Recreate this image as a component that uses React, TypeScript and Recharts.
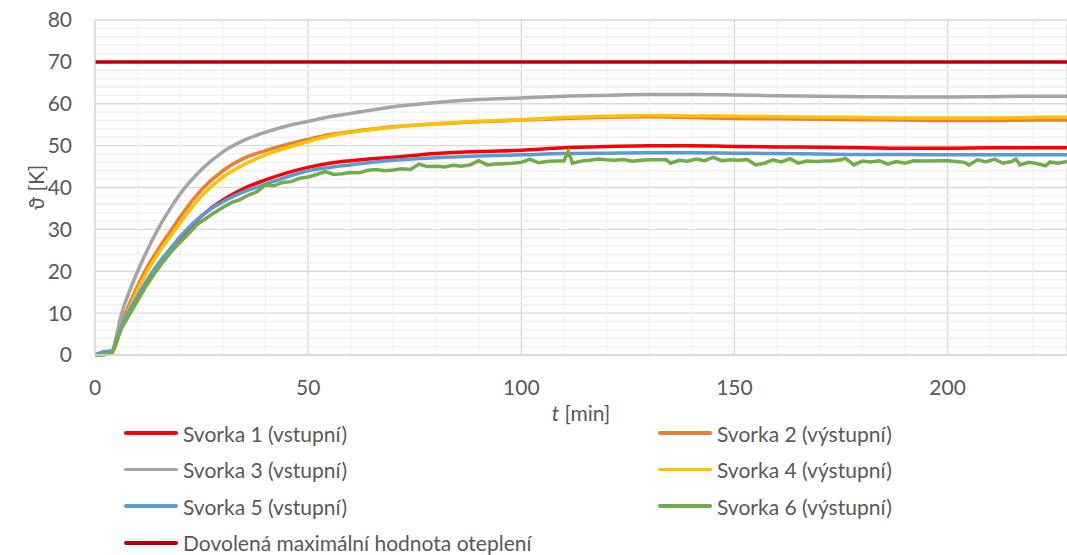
import React from 'react';
import { LineChart, Line, XAxis, YAxis, CartesianGrid, ReferenceLine, Legend } from 'recharts';

// time axis shared by the smooth series [min]
const smoothT = [0, 2, 4, 5, 6, 8, 10, 12, 15, 18, 20, 25, 30, 35, 40, 45, 50, 55, 60, 70, 80, 90, 100, 110, 120, 130, 140, 150, 160, 170, 180, 190, 200, 210, 220, 228];

const svorka1 = [0, 0.3, 0.6, 3, 6, 10, 13.5, 17, 21.5, 25.5, 28, 33.2, 37, 39.8, 41.8, 43.5, 44.8, 45.8, 46.4, 47.2, 48.1, 48.6, 48.9, 49.5, 49.8, 50, 50, 49.8, 49.7, 49.6, 49.5, 49.4, 49.4, 49.5, 49.5, 49.5];
const svorka2 = [0, 0.3, 0.6, 3.5, 7, 12, 16.5, 20.5, 25.5, 30, 33, 39.5, 44, 47, 48.8, 50.3, 51.5, 52.6, 53.3, 54.5, 55.2, 55.7, 56.1, 56.5, 56.8, 56.9, 56.7, 56.5, 56.4, 56.3, 56.2, 56.1, 56, 56, 56.1, 56.1];
const svorka3 = [0, 0.5, 0.8, 4.5, 9, 15, 20, 24.5, 30.5, 35.5, 38.5, 44.3, 48.5, 51.3, 53.2, 54.7, 55.8, 56.9, 57.7, 59.3, 60.3, 61, 61.4, 61.8, 62, 62.2, 62.2, 62.1, 61.9, 61.8, 61.7, 61.6, 61.6, 61.7, 61.8, 61.8];
const svorka4 = [0, 0.2, 0.5, 3, 6.5, 11, 15.5, 19.5, 24.5, 28.8, 31.6, 38, 42.5, 45.5, 47.8, 49.5, 51, 52.3, 53.2, 54.4, 55.2, 55.8, 56.2, 56.7, 57, 57.2, 57.1, 57, 56.9, 56.8, 56.7, 56.6, 56.6, 56.6, 56.7, 56.8];
const svorka5 = [0, 0.8, 1, 3.5, 6.5, 10.5, 14, 17.5, 22, 25.8, 28.3, 33.3, 36.6, 39, 40.8, 42.5, 44, 44.8, 45.4, 46.5, 47.1, 47.5, 47.8, 48.1, 48.2, 48.3, 48.3, 48.2, 48.1, 48, 47.9, 47.9, 47.8, 47.8, 47.8, 47.8];

// noisy sensor, [t, value]
const svorka6: [number, number][] = [
  [0, 0], [2, 0], [3, 0.2], [4, 0.5], [5, 3], [6, 6], [8, 9.5], [10, 13], [12, 16.5], [14, 19.5],
  [16, 22.3], [18, 24.8], [20, 27], [22, 29], [24, 31.2], [26, 32.6], [28, 34], [30, 35.2], [32, 36.4], [34, 37.1],
  [36, 38.2], [38, 39], [40, 40.6], [42, 40.4], [44, 41.2], [46, 41.4], [48, 42.2], [50, 42.5], [52, 43.1], [54, 43.8],
  [56, 43.1], [58, 43.3], [60, 43.6], [62, 43.5], [64, 44.1], [66, 44.3], [68, 44], [70, 44.2], [72, 44.5], [74, 44.3],
  [76, 45.6], [78, 45], [80, 45.1], [82, 44.9], [84, 45.3], [86, 45.1], [88, 45.4], [90, 46.4], [92, 45.4], [94, 45.6],
  [96, 45.7], [98, 45.8], [100, 46], [102, 46.8], [104, 45.9], [106, 46.2], [108, 46.3], [110, 46.4], [111, 48.6], [112, 45.8],
  [114, 46.3], [116, 46.5], [118, 46.8], [120, 46.6], [122, 46.5], [124, 46.7], [126, 46.3], [128, 46.5], [130, 46.6], [132, 46.6],
  [134, 46.6], [135, 45.8], [137, 46.5], [139, 46.3], [141, 46.8], [143, 46.4], [145, 47.2], [147, 46.4], [149, 46.6], [151, 46.5],
  [153, 46.7], [155, 45.4], [157, 45.8], [159, 46.6], [161, 46.1], [163, 46.9], [165, 45.8], [167, 46.3], [169, 46.2], [171, 46.3],
  [173, 46.4], [175, 46.6], [176, 47], [178, 45.4], [180, 46.3], [182, 46.1], [184, 46.4], [186, 45.6], [188, 46.2], [190, 45.8],
  [192, 46.4], [194, 46.3], [196, 46.3], [198, 46.4], [200, 46.4], [202, 46.2], [204, 46], [205, 45.4], [207, 46.6], [209, 46.1],
  [211, 46.8], [213, 45.8], [215, 46.2], [216, 46.8], [217, 45.4], [219, 46], [221, 45.7], [223, 45.2], [224, 46.1], [226, 45.8],
  [228, 46.2],
];

const limitT = [0, 228];
const limitV = [70, 70];

const xTicks = [0, 50, 100, 150, 200];
const yTicks = [0, 10, 20, 30, 40, 50, 60, 70, 80];
const xMinor = [10, 20, 30, 40, 60, 70, 80, 90, 110, 120, 130, 140, 160, 170, 180, 190, 210, 220];
const yMinor = [2, 4, 6, 8, 12, 14, 16, 18, 22, 24, 26, 28, 32, 34, 36, 38, 42, 44, 46, 48, 52, 54, 56, 58, 62, 64, 66, 68, 72, 74, 76, 78];

const TEXT = '#595959';
const FONT = 'Lato, "Open Sans", sans-serif';
const FS = 21;

const pts = (ts: number[], vs: number[]) => ts.map((t, i) => ({ t, v: vs[i] }));

const series = [
  { name: 'Svorka 1 (vstupní)', color: '#FF0000', data: pts(smoothT, svorka1), type: 'monotone' },
  { name: 'Svorka 2 (výstupní)', color: '#ED7D31', data: pts(smoothT, svorka2), type: 'monotone' },
  { name: 'Svorka 3 (vstupní)', color: '#A5A5A5', data: pts(smoothT, svorka3), type: 'monotone' },
  { name: 'Svorka 4 (výstupní)', color: '#FFC000', data: pts(smoothT, svorka4), type: 'monotone' },
  { name: 'Svorka 5 (vstupní)', color: '#5B9BD5', data: pts(smoothT, svorka5), type: 'monotone' },
  { name: 'Svorka 6 (výstupní)', color: '#70AD47', data: svorka6.map(([t, v]) => ({ t, v })), type: 'linear' },
  { name: 'Dovolená maximální hodnota oteplení', color: '#C00000', data: pts(limitT, limitV), type: 'linear' },
];

function XTitle(props: any) {
  const { viewBox } = props;
  const cx = viewBox.x + viewBox.width / 2;
  return (
    <text x={cx} y={viewBox.y + 66} textAnchor="middle" fill={TEXT} fontSize={FS} fontFamily={FONT}>
      <tspan fontStyle="italic">t</tspan>
      <tspan> [min]</tspan>
    </text>
  );
}

function YTitle(props: any) {
  const { viewBox } = props;
  const cy = viewBox.y + viewBox.height / 2;
  return (
    <text x={35} y={cy} textAnchor="middle" dominantBaseline="central" fill={TEXT} fontSize={FS} fontFamily={FONT} transform={`rotate(-90 35 ${cy})`}>
      ϑ [K]
    </text>
  );
}

// two-column legend like the Excel original, limit line alone on the last row
function LegendBox() {
  return (
    <div style={{ position: 'relative', width: 1067, height: 140, fontFamily: FONT }}>
      {series.map((s, i) => {
        const col = i < 6 ? i % 2 : 0;
        const row = Math.floor(i / 2);
        return (
          <div
            key={s.name}
            style={{
              position: 'absolute',
              left: col ? 658 : 124,
              top: row * 36.6,
              height: 30,
              display: 'flex',
              alignItems: 'center',
              whiteSpace: 'nowrap',
            }}
          >
            <span style={{ display: 'inline-block', width: 54, height: 3.5, borderRadius: 2, background: s.color, marginRight: 5 }} />
            <span style={{ color: TEXT, fontSize: FS }}>{s.name}</span>
          </div>
        );
      })}
    </div>
  );
}

export default function App() {
  return (
    <div style={{ position: 'absolute', left: 0, top: 0, width: 1067, height: 555, background: '#fff', fontFamily: FONT }}>
      <LineChart width={1067} height={555} margin={{ top: 20, right: 0, bottom: 130, left: 0 }}>
        <CartesianGrid stroke="#D9D9D9" strokeWidth={1.3} />
        {yMinor.map(v => (
          <ReferenceLine key={'y' + v} y={v} stroke="#F0F0F0" strokeWidth={1.3} ifOverflow="hidden" />
        ))}
        {xMinor.map(v => (
          <ReferenceLine key={'x' + v} x={v} stroke="#F0F0F0" strokeWidth={1.3} ifOverflow="hidden" />
        ))}
        <XAxis
          type="number"
          dataKey="t"
          domain={[0, 228]}
          ticks={xTicks}
          allowDataOverflow
          height={70}
          tickSize={0}
          tickMargin={25}
          tickLine={false}
          axisLine={{ stroke: '#D9D9D9', strokeWidth: 1.3 }}
          tick={{ fill: TEXT, fontSize: FS, fontFamily: FONT }}
          label={<XTitle />}
        />
        <YAxis
          type="number"
          domain={[0, 80]}
          ticks={yTicks}
          width={95}
          tickSize={0}
          tickMargin={23}
          tickLine={false}
          axisLine={{ stroke: '#D9D9D9', strokeWidth: 1.3 }}
          tick={{ fill: TEXT, fontSize: FS, fontFamily: FONT }}
          label={<YTitle />}
        />
        {series.map(s => (
          <Line
            key={s.name}
            name={s.name}
            data={s.data}
            dataKey="v"
            type={s.type as any}
            stroke={s.color}
            strokeWidth={3.5}
            dot={false}
            activeDot={false}
            isAnimationActive={false}
          />
        ))}
        <Legend
          layout="horizontal"
          verticalAlign="middle"
          align="center"
          content={<LegendBox />}
          wrapperStyle={{ left: 0, top: 418, width: 1067 }}
        />
      </LineChart>
    </div>
  );
}
